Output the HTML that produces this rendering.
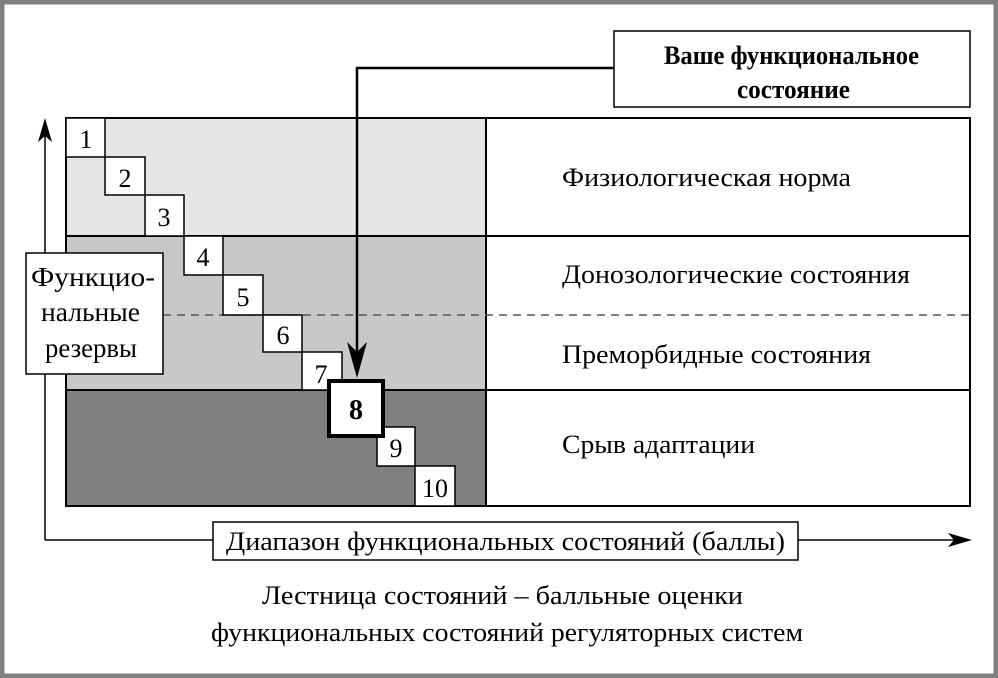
<!DOCTYPE html>
<html><head><meta charset="utf-8"><style>body{margin:0;background:#fff}svg{display:block}text{font-family:"Liberation Serif",serif;fill:#000}</style></head><body>
<svg width="998" height="678" viewBox="0 0 998 678" xmlns="http://www.w3.org/2000/svg">
<rect x="2" y="2" width="994" height="674" fill="#fff" stroke="#808080" stroke-width="5"/>
<rect x="66" y="118" width="420" height="118" fill="#e6e6e6"/>
<rect x="66" y="236" width="420" height="154" fill="#c8c8c9"/>
<rect x="66" y="390" width="420" height="116" fill="#808082"/>
<g stroke="#000" stroke-width="2" fill="none">
<rect x="66" y="118" width="904" height="388"/>
<line x1="486" y1="118" x2="486" y2="506"/>
<line x1="66" y1="236" x2="970" y2="236"/>
<line x1="66" y1="390" x2="970" y2="390"/>
</g>
<line x1="163" y1="315" x2="970" y2="315" stroke="#555" stroke-width="1.5" stroke-dasharray="8,6"/>
<g stroke="#000" stroke-width="1.5" fill="#fff">
<rect x="66" y="118" width="39" height="39"/>
<rect x="105" y="157" width="40" height="38"/>
<rect x="145" y="195" width="39" height="41"/>
<rect x="184" y="236" width="39" height="39"/>
<rect x="223" y="275" width="40" height="40"/>
<rect x="263" y="315" width="39" height="37"/>
<rect x="302" y="352" width="40" height="38"/>
<rect x="377" y="427" width="38" height="39"/>
<rect x="415" y="466" width="40" height="40"/>
</g>
<rect x="329" y="381" width="54" height="55" fill="#fff" stroke="#000" stroke-width="4"/>
<g font-size="26" text-anchor="middle">
<text x="86" y="148">1</text><text x="125" y="187">2</text><text x="164" y="226">3</text>
<text x="203" y="266">4</text><text x="243" y="306">5</text><text x="283" y="344">6</text>
<text x="321" y="383">7</text><text x="396" y="457">9</text><text x="435" y="497">10</text>
<text x="356" y="419" font-weight="bold" font-size="28">8</text>
</g>
<polyline points="614,68 357,68 357,370" fill="none" stroke="#000" stroke-width="2.5"/>
<polygon points="347,342 357,378 367,342 357,352" fill="#000"/>
<rect x="614" y="31" width="356" height="76" fill="#fff" stroke="#000" stroke-width="1.5"/>
<text x="664" y="64" font-size="26" font-weight="bold" textLength="255" lengthAdjust="spacingAndGlyphs">Ваше функциональное</text>
<text x="737" y="98" font-size="26" font-weight="bold" textLength="113" lengthAdjust="spacingAndGlyphs">состояние</text>
<g font-size="26">
<text x="562" y="186" textLength="289" lengthAdjust="spacingAndGlyphs">Физиологическая норма</text>
<text x="562" y="283" textLength="348" lengthAdjust="spacingAndGlyphs">Донозологические состояния</text>
<text x="562" y="363" textLength="309" lengthAdjust="spacingAndGlyphs">Преморбидные состояния</text>
<text x="562" y="453" textLength="193" lengthAdjust="spacingAndGlyphs">Срыв адаптации</text>
</g>
<line x1="45" y1="540" x2="45" y2="128" stroke="#000" stroke-width="1.5"/>
<polygon points="38,142 45,118 52,142 45,136" fill="#000"/>
<line x1="45" y1="540" x2="960" y2="540" stroke="#000" stroke-width="1.5"/>
<polygon points="948,533 972,540 948,547 954,540" fill="#000"/>
<rect x="26" y="253" width="137" height="121" fill="#fff" stroke="#000" stroke-width="1.5"/>
<g font-size="27">
<text x="31" y="286" textLength="124" lengthAdjust="spacingAndGlyphs">Функцио-</text>
<text x="41" y="321" textLength="99" lengthAdjust="spacingAndGlyphs">нальные</text>
<text x="45" y="357" textLength="92" lengthAdjust="spacingAndGlyphs">резервы</text>
</g>
<rect x="213" y="522" width="585" height="38" fill="#fff" stroke="#000" stroke-width="1.5"/>
<text x="226" y="550" font-size="26" textLength="559" lengthAdjust="spacingAndGlyphs">Диапазон функциональных состояний (баллы)</text>
<text x="262" y="604" font-size="26" textLength="481" lengthAdjust="spacingAndGlyphs">Лестница состояний – балльные оценки</text>
<text x="211" y="641" font-size="26" textLength="592" lengthAdjust="spacingAndGlyphs">функциональных состояний регуляторных систем</text>
</svg>
</body></html>
